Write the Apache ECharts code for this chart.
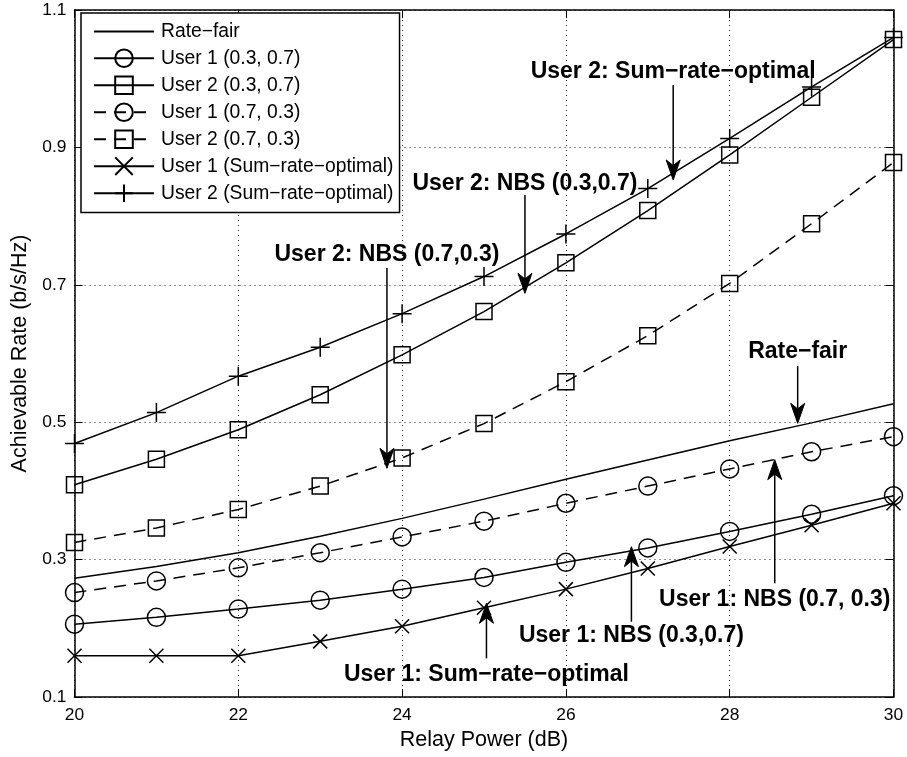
<!DOCTYPE html>
<html>
<head>
<meta charset="utf-8">
<script src="https://cdn.jsdelivr.net/npm/echarts@6/dist/echarts.min.js"></script>
<style>
  html, body { margin: 0; padding: 0; background: #fff; }
  #chart { width: 907px; height: 757px; }
</style>
</head>
<body>
<div id="chart"></div>
<script>
// Relay power sweep (dB)
const relayPower = [20, 21, 22, 23, 24, 25, 26, 27, 28, 29, 30];

// Achievable rates (b/s/Hz)
const rateFair     = [0.273, 0.290, 0.310, 0.334, 0.360, 0.388, 0.417, 0.445, 0.473, 0.499, 0.527];
const user1Nbs37   = [0.206, 0.216, 0.228, 0.241, 0.257, 0.274, 0.296, 0.317, 0.341, 0.366, 0.393];
const user2Nbs37   = [0.409, 0.446, 0.489, 0.540, 0.598, 0.661, 0.732, 0.808, 0.889, 0.973, 1.057];
const user1Nbs73   = [0.252, 0.269, 0.288, 0.310, 0.333, 0.356, 0.382, 0.407, 0.432, 0.457, 0.479];
const user2Nbs73   = [0.325, 0.346, 0.373, 0.407, 0.448, 0.498, 0.559, 0.626, 0.702, 0.789, 0.878];
const user1SumRate = [0.160, 0.160, 0.160, 0.181, 0.203, 0.230, 0.257, 0.287, 0.319, 0.350, 0.382];
const user2SumRate = [0.469, 0.514, 0.567, 0.609, 0.658, 0.712, 0.774, 0.840, 0.913, 0.988, 1.060];

// Series names
const seriesNames = [
  'Rate\u2212fair',
  'User 1 (0.3, 0.7)',
  'User 2 (0.3, 0.7)',
  'User 1 (0.7, 0.3)',
  'User 2 (0.7, 0.3)',
  'User 1 (Sum\u2212rate\u2212optimal)',
  'User 2 (Sum\u2212rate\u2212optimal)'
];

// Axis ticks
const xTicks = { min: 20, max: 30, step: 2 };
const yTicks = { min: 0.1, max: 1.1, step: 0.2 };
const xTitle = 'Relay Power (dB)';
const yTitle = 'Achievable Rate (b/s/Hz)';

// Callout labels with arrows, in data coordinates
const notes = [
  { text: 'User 2: Sum\u2212rate\u2212optimal', at: [27.31, 1.0097], from: [27.31, 0.991],  to: [27.31, 0.8526] },
  { text: 'User 2: NBS (0.3,0.7)',            at: [25.50, 0.8477], from: [25.50, 0.8307], to: [25.50, 0.6876] },
  { text: 'User 2: NBS (0.7,0.3)',            at: [23.815, 0.7434], from: [23.815, 0.7245], to: [23.815, 0.4329] },
  { text: 'Rate\u2212fair',                   at: [28.83, 0.6022], from: [28.83, 0.5818], to: [28.83, 0.4984] },
  { text: 'User 1: NBS (0.7, 0.3)',           at: [28.55, 0.2422], from: [28.55, 0.2655], to: [28.55, 0.4455] },
  { text: 'User 1: NBS (0.3,0.7)',            at: [26.80, 0.1888], from: [26.80, 0.2096], to: [26.80, 0.3188] },
  { text: 'User 1: Sum\u2212rate\u2212optimal', at: [25.03, 0.1332], from: [25.03, 0.1563], to: [25.03, 0.2364] }
];

const FONT = '"Liberation Sans", Arial, Helvetica, sans-serif';
const PLUS = 'path://M0,5L10,5M5,0L5,10';
const CROSS = 'path://M0,0L10,10M10,0L0,10';

const chart = echarts.init(document.getElementById('chart'), null, { renderer: 'canvas' });

const toPairs = ys => relayPower.map((x, i) => [x, ys[i]]);

function lineSeries(name, values, symbol, size, dashed) {
  return {
    type: 'line',
    name: name,
    data: toPairs(values),
    symbol: symbol,
    symbolSize: size,
    showSymbol: symbol !== 'none',
    smooth: false,
    lineStyle: { color: '#000', width: 1.5, type: dashed ? [12, 8] : 'solid' },
    itemStyle: {
      color: 'rgba(0,0,0,0)',
      borderColor: symbol === 'none' ? 'rgba(0,0,0,0)' : '#000',
      borderWidth: symbol === 'none' ? 0 : 1.5
    },
    emphasis: { disabled: true },
    animation: false,
    z: 3
  };
}

const frameAxis = {
  axisLine: { show: true, onZero: false, lineStyle: { color: '#000', width: 1.5 } },
  axisTick: { show: true, inside: true, length: 8, lineStyle: { color: '#000', width: 1 } }
};

const option = {
  animation: false,
  backgroundColor: '#fff',
  grid: { left: 74.5, right: 13.5, top: 10, bottom: 60, containLabel: false },
  legend: {
    orient: 'vertical',
    left: 81,
    top: 13,
    padding: [9, 6, 9.5, 12],
    itemWidth: 60,
    itemHeight: 22,
    itemGap: 7.4,
    backgroundColor: '#fff',
    borderColor: '#000',
    borderWidth: 1.5,
    borderRadius: 0,
    selectedMode: false,
    textStyle: { fontSize: 19.3, color: '#000', fontFamily: FONT, padding: [0, 0, 0, 2] },
    data: seriesNames,
    z: 10
  },
  xAxis: [
    Object.assign({
      type: 'value', position: 'bottom',
      min: xTicks.min, max: xTicks.max, interval: xTicks.step,
      name: xTitle, nameLocation: 'middle', nameGap: 30,
      nameTextStyle: { fontSize: 21.5, color: '#000', fontFamily: FONT },
      axisLabel: { fontSize: 17.4, color: '#000', margin: 10, fontFamily: FONT },
      splitLine: { show: true, lineStyle: { color: '#222', width: 1, type: [1, 4] } }
    }, frameAxis),
    Object.assign({
      type: 'value', position: 'top',
      min: xTicks.min, max: xTicks.max, interval: xTicks.step,
      axisLabel: { show: false },
      splitLine: { show: false }
    }, frameAxis)
  ],
  yAxis: [
    Object.assign({
      type: 'value', position: 'left',
      min: yTicks.min, max: yTicks.max, interval: yTicks.step,
      name: yTitle, nameLocation: 'middle', nameGap: 41, nameRotate: 90,
      nameTextStyle: { fontSize: 21.5, color: '#000', fontFamily: FONT },
      axisLabel: { fontSize: 17.4, color: '#000', margin: 8, fontFamily: FONT,
                   formatter: v => v.toFixed(1) },
      splitLine: { show: true, lineStyle: { color: '#222', width: 1, type: [1, 4] } }
    }, frameAxis),
    Object.assign({
      type: 'value', position: 'right',
      min: yTicks.min, max: yTicks.max, interval: yTicks.step,
      axisLabel: { show: false },
      splitLine: { show: false }
    }, frameAxis)
  ],
  series: [
    lineSeries(seriesNames[0], rateFair, 'none', 0, false),
    lineSeries(seriesNames[1], user1Nbs37, 'circle', 18, false),
    lineSeries(seriesNames[2], user2Nbs37, 'rect', 16, false),
    lineSeries(seriesNames[3], user1Nbs73, 'circle', 18, true),
    lineSeries(seriesNames[4], user2Nbs73, 'rect', 16, true),
    lineSeries(seriesNames[5], user1SumRate, CROSS, 14, false),
    lineSeries(seriesNames[6], user2SumRate, PLUS, 19, false)
  ]
};

chart.setOption(option);

// Callouts: bold label plus a notched arrow pointing at a curve
function buildNotes() {
  const finder = { xAxisIndex: 0, yAxisIndex: 0 };
  const headLen = 20, headWidth = 14, notch = 0.72;
  const elements = [];
  notes.forEach(n => {
    const t = chart.convertToPixel(finder, n.at);
    const a = chart.convertToPixel(finder, n.from);
    const b = chart.convertToPixel(finder, n.to);
    const dx = b[0] - a[0], dy = b[1] - a[1];
    const len = Math.hypot(dx, dy);
    const ux = dx / len, uy = dy / len;
    const px = -uy, py = ux;
    const baseX = b[0] - ux * headLen, baseY = b[1] - uy * headLen;
    const notchX = b[0] - ux * headLen * notch, notchY = b[1] - uy * headLen * notch;
    elements.push({
      type: 'text', z: 20,
      style: {
        text: n.text, x: t[0], y: t[1], align: 'center', verticalAlign: 'middle',
        font: 'bold 23px ' + FONT, fill: '#000'
      }
    });
    elements.push({
      type: 'line', z: 20,
      shape: { x1: a[0], y1: a[1], x2: notchX, y2: notchY },
      style: { stroke: '#000', lineWidth: 1.5 }
    });
    elements.push({
      type: 'polygon', z: 20,
      shape: { points: [
        [b[0], b[1]],
        [baseX + px * headWidth / 2, baseY + py * headWidth / 2],
        [notchX, notchY],
        [baseX - px * headWidth / 2, baseY - py * headWidth / 2]
      ] },
      style: { fill: '#000', stroke: '#000', lineWidth: 1 }
    });
  });
  chart.setOption({ graphic: elements });
}
buildNotes();
</script>
</body>
</html>
